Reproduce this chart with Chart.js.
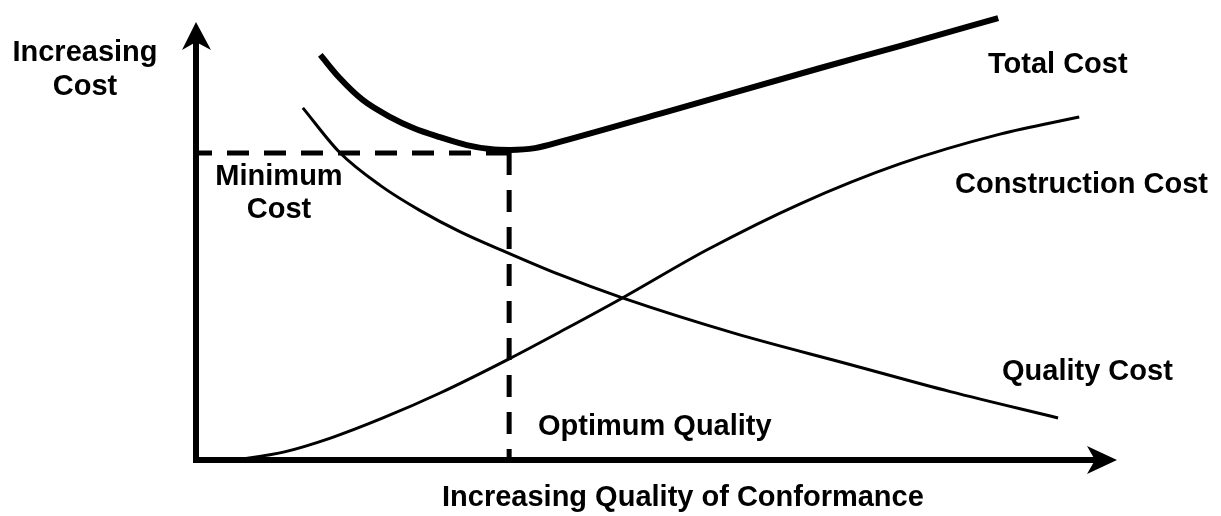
<!DOCTYPE html>
<html>
<head>
<meta charset="utf-8">
<script src="https://cdn.jsdelivr.net/npm/chart.js@4.4.0/dist/chart.umd.min.js"></script>
<style>
  html, body { margin: 0; padding: 0; background: #fff; }
</style>
</head>
<body>
<canvas id="chart" width="1221" height="516"></canvas>
<script>
// x = quality of conformance, y = cost (both in arbitrary 0..100 units)
const totalCostX = [13.5, 15.6, 18.1, 21.1, 23.6, 26.5, 29.4, 31.9, 34.1, 36.8, 40.3, 51.1, 67.8, 76.4, 87.1];
const totalCostY = [92.5, 87.2, 82.2, 78.3, 75.8, 73.7, 71.9, 71.0, 70.8, 71.2, 73.1, 79.5, 89.5, 94.5, 100.9];

const qualityCostX = [11.6, 15.6, 20.0, 24.3, 28.7, 33.3, 39.5, 46.3, 58.5, 71.0, 81.9, 93.6];
const qualityCostY = [80.4, 70.2, 62.7, 57.0, 52.1, 47.8, 42.3, 37.0, 28.9, 21.8, 15.6, 9.6];

const constructionCostX = [4.2, 9.5, 14.6, 20.3, 26.5, 34.0, 40.1, 46.3, 55.5, 65.6, 76.4, 87.3, 95.9];
const constructionCostY = [0, 1.8, 5.0, 9.6, 15.3, 23.1, 29.9, 37.0, 48.0, 58.5, 67.6, 74.4, 78.3];

const optimumQuality = 34.0;
const minimumCost = 70.1;

const labelFont = 'bold 29px "Liberation Sans", Arial, sans-serif';

function toPoints(xs, ys) {
    return xs.map((x, i) => ({ x: x, y: ys[i] }));
}

// axes with arrow heads + the text labels
const diagramPlugin = {
    id: 'diagram',
    beforeDatasetsDraw(chart) {
        const ctx = chart.ctx;
        const { top, right } = chart.chartArea;
        const x0 = chart.scales.x.getPixelForValue(0);
        const y0 = chart.scales.y.getPixelForValue(0);

        ctx.save();
        ctx.strokeStyle = '#000';
        ctx.fillStyle = '#000';
        ctx.lineWidth = 6;
        ctx.lineJoin = 'miter';
        ctx.beginPath();
        ctx.moveTo(x0, top + 20);
        ctx.lineTo(x0, y0);
        ctx.lineTo(right - 22, y0);
        ctx.stroke();

        // y arrow
        ctx.beginPath();
        ctx.moveTo(x0, top);
        ctx.lineTo(x0 + 15, top + 28);
        ctx.lineTo(x0, top + 20);
        ctx.lineTo(x0 - 14, top + 28);
        ctx.closePath();
        ctx.fill();

        // x arrow
        ctx.beginPath();
        ctx.moveTo(right, y0);
        ctx.lineTo(right - 30, y0 - 14);
        ctx.lineTo(right - 22, y0);
        ctx.lineTo(right - 30, y0 + 14);
        ctx.closePath();
        ctx.fill();
        ctx.restore();
    },
    afterDraw(chart) {
        const ctx = chart.ctx;
        ctx.save();
        ctx.fillStyle = '#000';
        ctx.font = labelFont;
        ctx.textBaseline = 'alphabetic';

        ctx.textAlign = 'center';
        ctx.fillText('Increasing', 85, 61);
        ctx.fillText('Cost', 85, 95);
        ctx.fillText('Minimum', 279, 185);
        ctx.fillText('Cost', 279, 218);

        ctx.textAlign = 'left';
        ctx.fillText('Total Cost', 988, 73);
        ctx.fillText('Construction Cost', 955, 193);
        ctx.fillText('Quality Cost', 1002, 380);
        ctx.fillText('Optimum Quality', 538, 435);
        ctx.fillText('Increasing Quality of Conformance', 442, 506);
        ctx.restore();
    }
};

const curve = {
    showLine: true,
    pointRadius: 0,
    borderColor: '#000',
    backgroundColor: '#000',
    fill: false,
    clip: false,
    cubicInterpolationMode: 'monotone'
};

new Chart(document.getElementById('chart'), {
    type: 'scatter',
    data: {
        datasets: [
            { ...curve, label: 'Total Cost', data: toPoints(totalCostX, totalCostY), borderWidth: 6 },
            { ...curve, label: 'Quality Cost', data: toPoints(qualityCostX, qualityCostY), borderWidth: 3 },
            { ...curve, label: 'Construction Cost', data: toPoints(constructionCostX, constructionCostY), borderWidth: 3 },
            {
                ...curve, label: 'Minimum Cost',
                data: [{ x: 0, y: minimumCost }, { x: optimumQuality, y: minimumCost }],
                cubicInterpolationMode: 'default', tension: 0,
                borderWidth: 5, borderDash: [22, 15], borderDashOffset: 6
            },
            {
                ...curve, label: 'Optimum Quality',
                data: [{ x: optimumQuality, y: minimumCost }, { x: optimumQuality, y: 0 }],
                cubicInterpolationMode: 'default', tension: 0,
                borderWidth: 5, borderDash: [22, 15], borderDashOffset: 0
            }
        ]
    },
    options: {
        responsive: false,
        animation: false,
        layout: { padding: { left: 196, right: 104, top: 22, bottom: 56 } },
        plugins: {
            legend: { display: false },
            tooltip: { enabled: false }
        },
        scales: {
            x: { type: 'linear', min: 0, max: 100, display: false },
            y: { type: 'linear', min: 0, max: 100, display: false }
        }
    },
    plugins: [diagramPlugin]
});
</script>
</body>
</html>
